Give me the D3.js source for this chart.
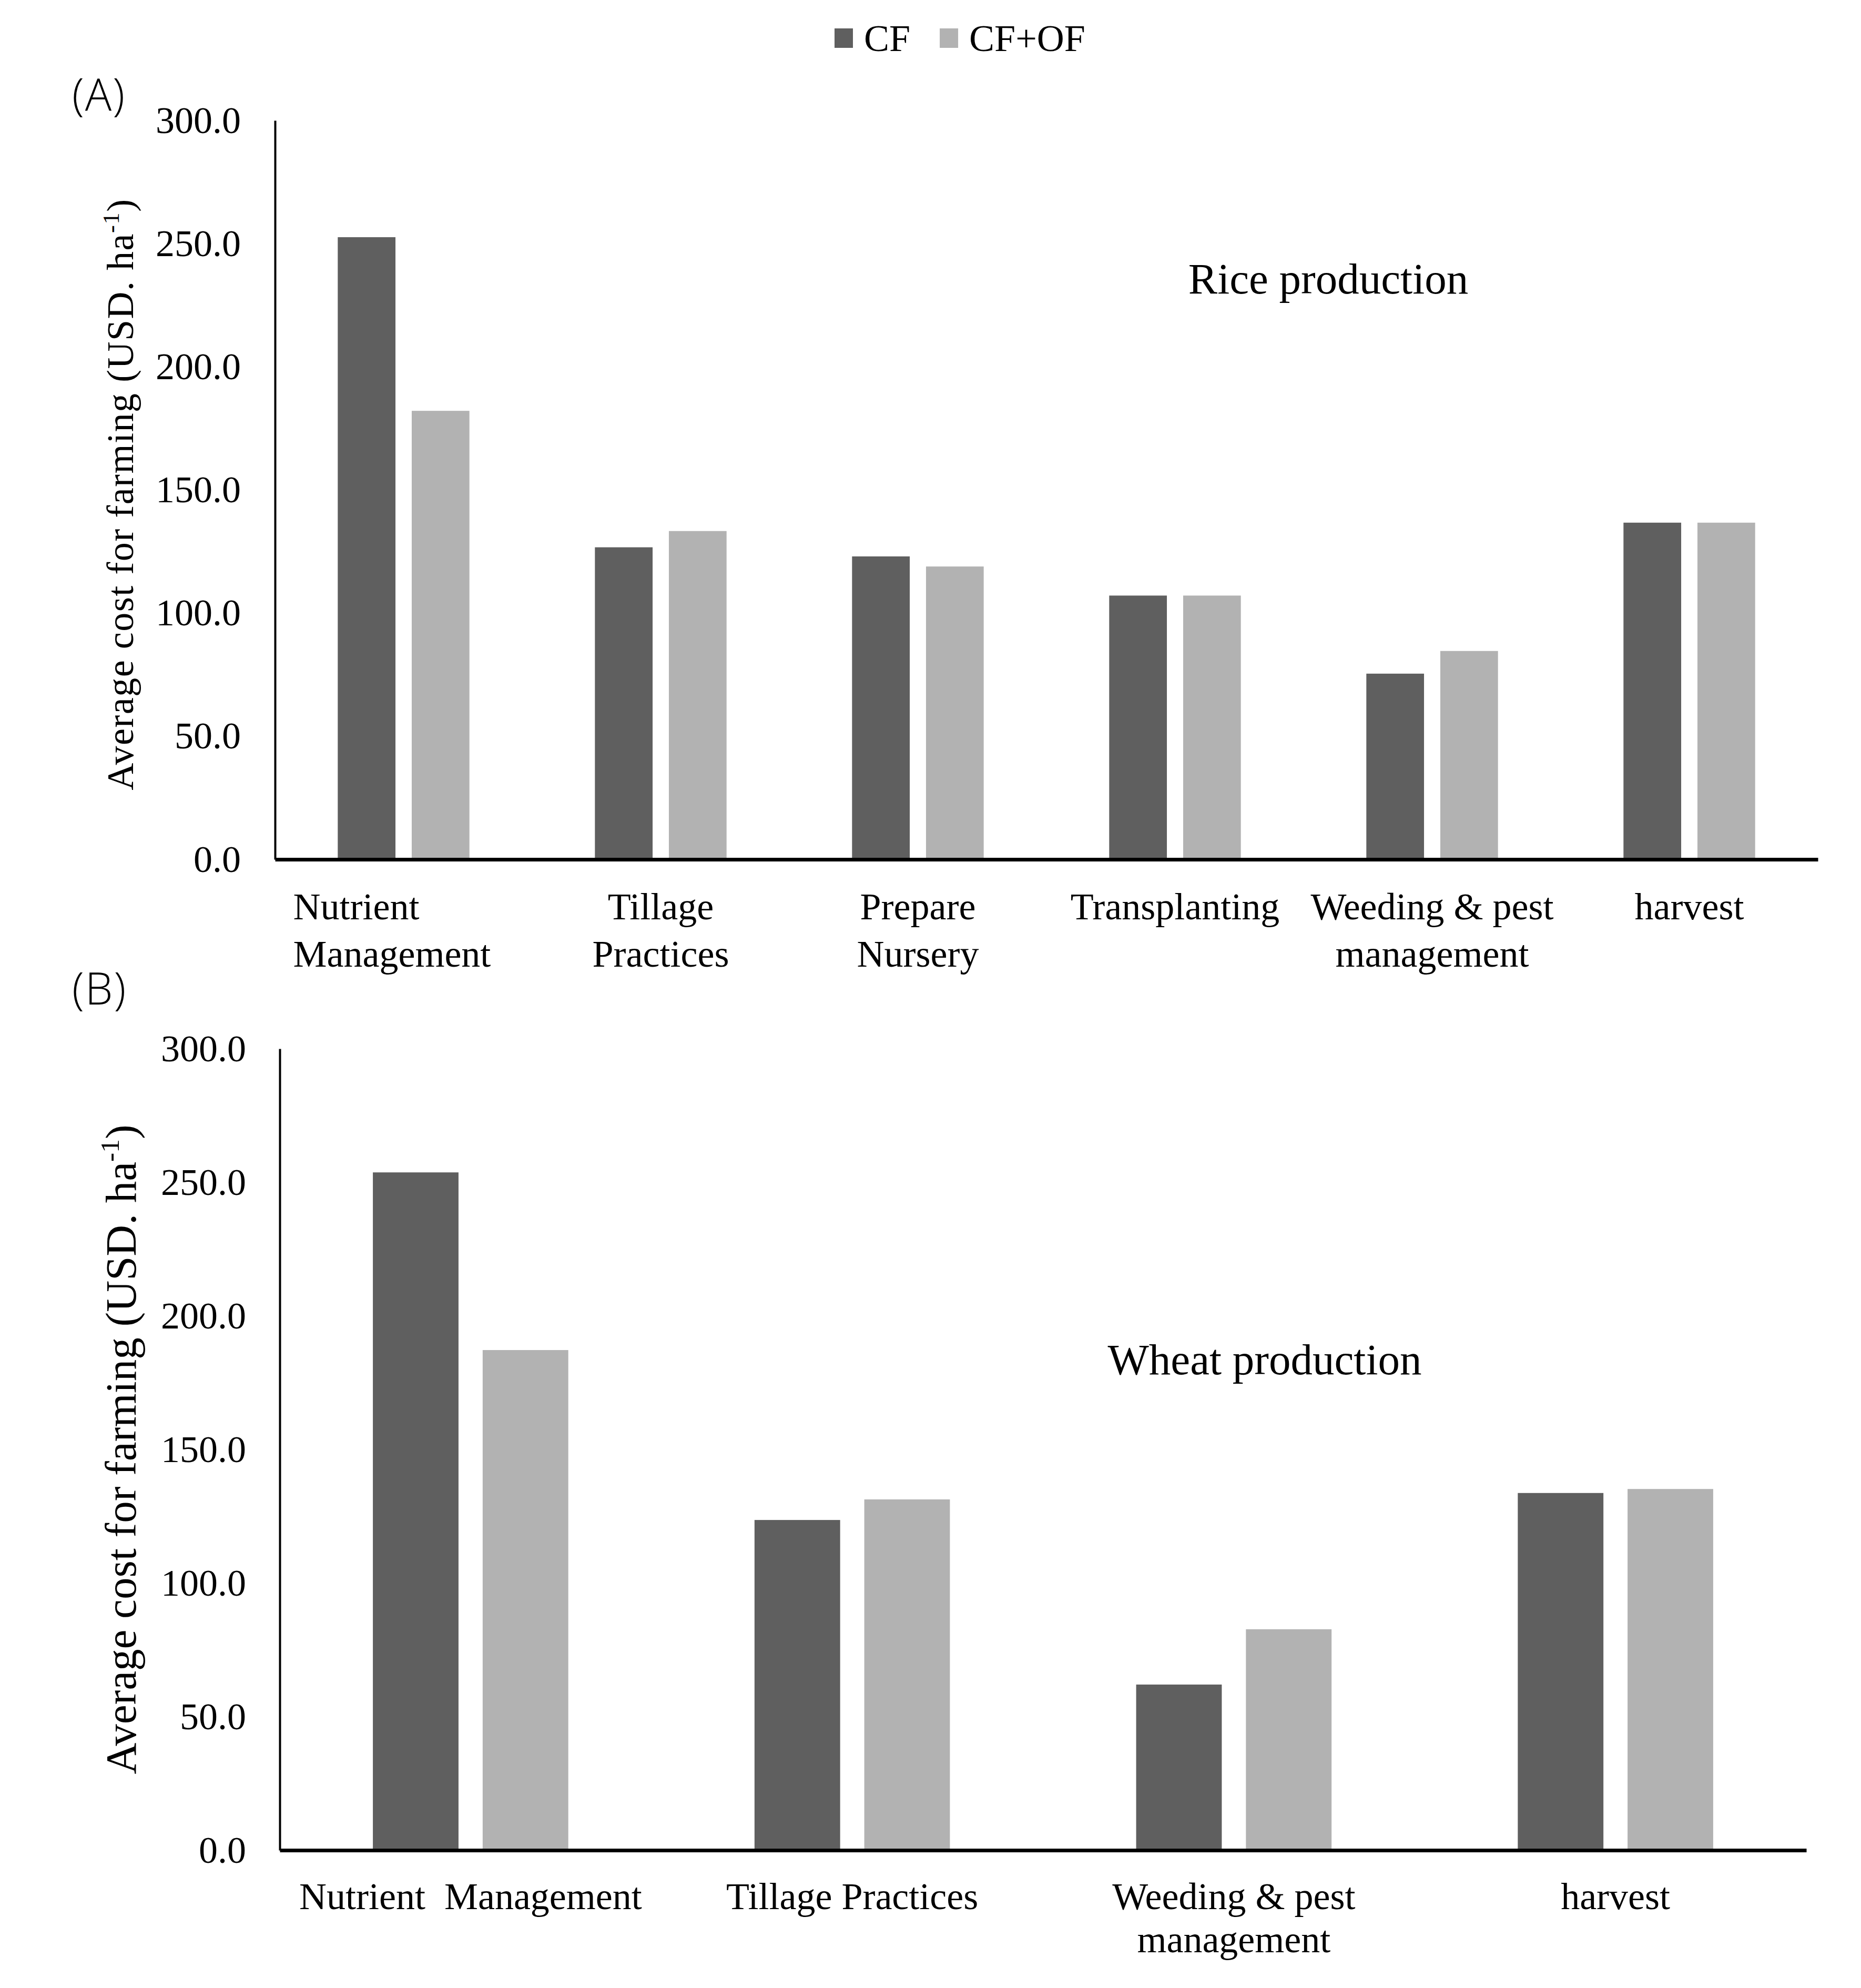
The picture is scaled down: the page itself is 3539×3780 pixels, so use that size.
<!DOCTYPE html>
<html>
<head>
<meta charset="utf-8">
<script src="https://cdn.jsdelivr.net/npm/d3@7"></script>
<style>
  body { margin: 0; background: #fff; }
  svg { display: block; }
  text { font-family: "Liberation Serif", "Times New Roman", serif; fill: #000; }
  text.letter { font-family: "Open Sans", "DejaVu Sans", sans-serif; font-weight: 300; }
</style>
</head>
<body>
<svg id="chart" width="3539" height="3780"></svg>
<script>
// series + colours
const series = ["CF", "CF+OF"];
const seriesColors = ["#5f5f5f", "#b2b2b2"];

// (A) rice
const riceCategories = [["Nutrient", "Management"], ["Tillage", "Practices"], ["Prepare", "Nursery"],
  ["Transplanting"], ["Weeding & pest", "management"], ["harvest"]];
const riceCF = [252.6, 126.7, 123.0, 107.1, 75.4, 136.7];
const riceCFOF = [182.1, 133.3, 118.9, 107.1, 84.6, 136.7];

// (B) wheat
const wheatCategories = [["Nutrient  Management"], ["Tillage Practices"], ["Weeding & pest", "management"], ["harvest"]];
const wheatCF = [253.7, 123.6, 62.0, 133.7];
const wheatCFOF = [187.2, 131.3, 82.7, 135.2];

const yTicks = [0, 50, 100, 150, 200, 250, 300];

const svg = d3.select("#chart");

// legend
let legend = svg.append("g").attr("transform", "translate(1587,0)");
let lx = 0;
series.forEach(function(s, i) {
  legend.append("rect")
    .attr("x", lx).attr("y", 54)
    .attr("width", 35).attr("height", 37)
    .attr("fill", seriesColors[i]);
  let t = legend.append("text")
    .attr("x", lx + 56).attr("y", 97)
    .attr("font-size", 72)
    .text(s);
  lx += 56 + t.node().getComputedTextLength() + 56;
});

function drawPanel(opt) {
  let cats = opt.categories.map(function(d) { return d.join(" "); });
  let rows = cats.map(function(c, i) {
    return { cat: c, lines: opt.categories[i], values: [opt.cf[i], opt.cfof[i]] };
  });

  let x = d3.scaleBand()
    .domain(cats)
    .range([opt.left, opt.right])
    .paddingInner(0.488)
    .paddingOuter(0.244);

  let xs = d3.scaleBand()
    .domain(series)
    .range([0, x.bandwidth()])
    .paddingInner(0.22);

  let y = d3.scaleLinear()
    .domain([0, 300])
    .range([opt.bottom, opt.top]);

  let g = svg.append("g");

  // bars
  g.append("g").selectAll("g")
    .data(rows)
    .join("g")
      .attr("transform", function(d) { return "translate(" + x(d.cat) + ",0)"; })
    .selectAll("rect")
    .data(function(d) { return d.values.map(function(v, i) { return { s: series[i], v: v, i: i }; }); })
    .join("rect")
      .attr("x", function(d) { return xs(d.s); })
      .attr("y", function(d) { return y(d.v); })
      .attr("width", xs.bandwidth())
      .attr("height", function(d) { return y(0) - y(d.v); })
      .attr("fill", function(d) { return seriesColors[d.i]; });

  // y axis
  let ya = g.append("g")
    .attr("transform", "translate(" + opt.left + ",0)")
    .call(d3.axisLeft(y).tickValues(yTicks).tickFormat(d3.format(".1f"))
      .tickSize(0).tickPadding(opt.left - opt.tickEnd));
  ya.select(".domain").attr("stroke", "#000").attr("stroke-width", 4);
  ya.selectAll("text")
    .attr("font-size", 72)
    .attr("fill", "#000");

  // x axis
  let xa = g.append("g")
    .attr("transform", "translate(0," + opt.bottom + ")")
    .call(d3.axisBottom(x).tickSize(0).tickSizeOuter(0).tickFormat(""));
  xa.select(".domain").attr("stroke", "#000").attr("stroke-width", 7);
  xa.selectAll(".tick text").remove();

  let labels = g.append("g").selectAll("text")
    .data(rows)
    .join("text")
      .attr("font-size", 72)
      .attr("text-anchor", function(d, i) { return (opt.firstStart && i === 0) ? "start" : "middle"; })
      .attr("x", function(d, i) {
        let c = x(d.cat) + x.bandwidth() / 2;
        return (opt.firstStart && i === 0) ? c - 210 : c;
      })
      .attr("y", opt.bottom + opt.labelGap)
      .style("white-space", "pre");
  labels.selectAll("tspan")
    .data(function(d, i) { return d.lines.map(function(l) { return { l: l, parent: i }; }); })
    .join("tspan")
      .attr("x", function() { return this.parentNode.getAttribute("x"); })
      .attr("dy", function(d, j) { return j === 0 ? 0 : opt.lineGap; })
      .text(function(d) { return d.l; });

  // y label
  let yl = g.append("text")
    .attr("transform", "translate(" + opt.ylabX + "," + opt.ylabY + ") rotate(-90)")
    .attr("text-anchor", "middle")
    .attr("font-size", opt.ylabSize)
    .attr("letter-spacing", opt.ylabSpacing);
  yl.append("tspan").text("Average cost for farming (USD. ha");
  yl.append("tspan").attr("dy", -opt.ylabSize * 0.38).attr("font-size", opt.ylabSize * 0.62).text("-1");
  yl.append("tspan").attr("dy", opt.ylabSize * 0.38).text(")");

  // production title
  g.append("text")
    .attr("x", opt.titleX).attr("y", opt.titleY)
    .attr("text-anchor", "middle")
    .attr("font-size", 83)
    .text(opt.title);

  // panel letter
  g.append("text")
    .attr("class", "letter")
    .attr("x", 137).attr("y", opt.letterY)
    .attr("font-size", 84)
    .attr("letter-spacing", 2)
    .text(opt.letter);
}

drawPanel({
  categories: riceCategories, cf: riceCF, cfof: riceCFOF,
  left: 523, right: 3457, top: 229, bottom: 1634, tickEnd: 458,
  labelGap: 114, lineGap: 90, firstStart: true,
  ylabX: 253, ylabY: 940, ylabSize: 72, ylabSpacing: 1.5,
  title: "Rice production", titleX: 2526, titleY: 558,
  letter: "(A)", letterY: 210
});

drawPanel({
  categories: wheatCategories, cf: wheatCF, cfof: wheatCFOF,
  left: 532, right: 3435, top: 1994, bottom: 3518, tickEnd: 468,
  labelGap: 112, lineGap: 82, firstStart: false,
  ylabX: 258, ylabY: 2756, ylabSize: 83, ylabSpacing: 0,
  title: "Wheat production", titleX: 2405, titleY: 2613,
  letter: "(B)", letterY: 1910
});
</script>
</body>
</html>
